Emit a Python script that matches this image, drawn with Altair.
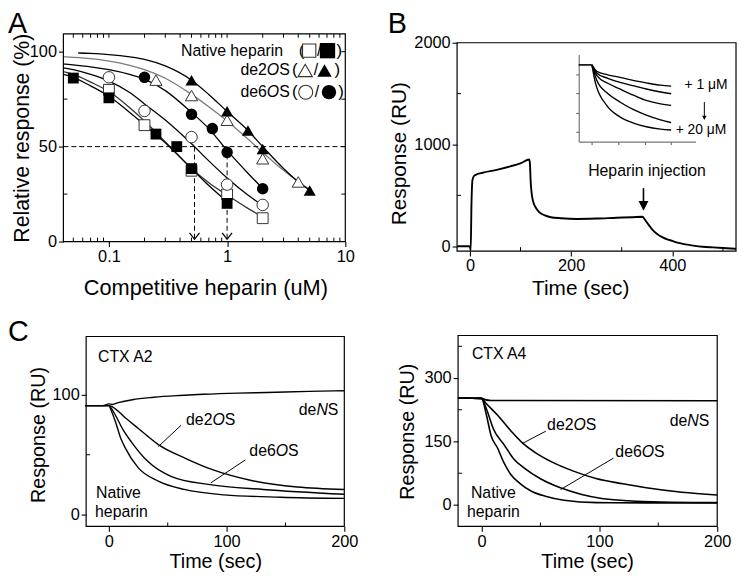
import altair as alt
import pandas as pd

FONT = "Liberation Sans"
W, H = 737, 568

# ================= Panel A : competition curves =================
A_sq_open_x = [0.1, 0.2, 0.5, 1.0, 2.0]
A_sq_open_y = [79.9, 61.3, 37.3, 24.8, 12.3]
A_sq_fill_x = [0.05, 0.1, 0.25, 0.375, 0.5, 1.0]
A_sq_fill_y = [86.1, 75.7, 56.6, 50.0, 38.4, 20.1]
A_tri_open_x = [0.25, 0.5, 1.0, 2.0, 4.0]
A_tri_open_y = [85.0, 76.9, 63.9, 43.6, 31.4]
A_tri_fill_x = [0.5, 1.0, 1.5, 2.0, 5.0]
A_tri_fill_y = [85.0, 68.6, 58.5, 48.8, 26.9]
A_cir_open_x = [0.1, 0.2, 0.5, 1.0, 2.0]
A_cir_open_y = [86.5, 68.8, 55.0, 30.0, 19.3]
A_cir_fill_x = [0.2, 0.5, 0.75, 1.0, 2.0]
A_cir_fill_y = [86.5, 67.0, 59.5, 47.0, 27.8]

fit_sq_open_x = [0.0412, 0.05, 0.07, 0.1, 0.15, 0.2, 0.3, 0.5, 0.7, 1.0, 1.5, 2.0]
fit_sq_open_y = [89.5, 88.0, 84.0, 79.0, 70.5, 63.5, 52.5, 38.5, 31.0, 24.5, 17.5, 13.0]
fit_sq_fill_x = [0.0412, 0.05, 0.07, 0.1, 0.15, 0.2, 0.3, 0.5, 0.7, 1.0]
fit_sq_fill_y = [88.0, 86.5, 82.0, 76.5, 68.0, 61.5, 52.0, 38.5, 29.5, 21.0]
fit_cir_open_x = [0.0412, 0.05, 0.07, 0.1, 0.15, 0.2, 0.3, 0.5, 0.7, 1.0, 1.5, 2.0]
fit_cir_open_y = [91.5, 90.5, 88.0, 84.5, 78.5, 72.5, 64.0, 51.5, 42.5, 33.5, 24.5, 19.0]
fit_cir_fill_x = [0.0412, 0.05, 0.07, 0.1, 0.15, 0.2, 0.3, 0.5, 0.7, 1.0, 1.5, 2.0]
fit_cir_fill_y = [93.5, 93.0, 92.0, 90.5, 88.0, 85.5, 79.5, 68.0, 59.5, 48.0, 36.0, 28.0]
fit_tri_open_x = [0.0412, 0.05, 0.07, 0.1, 0.15, 0.2, 0.3, 0.5, 0.7, 1.0, 1.5, 2.0, 3.0, 4.0, 5.0]
fit_tri_open_y = [97.3, 97.0, 96.3, 95.0, 92.8, 90.5, 86.0, 77.5, 71.0, 63.5, 54.0, 47.0, 37.5, 31.5, 27.5]
fit_tri_fill_x = [0.055, 0.07, 0.1, 0.15, 0.2, 0.3, 0.5, 0.7, 1.0, 1.5, 2.0, 3.0, 4.0, 5.0]
fit_tri_fill_y = [99.3, 99.1, 98.5, 97.3, 96.0, 92.5, 85.0, 77.5, 68.5, 58.5, 50.0, 38.5, 31.5, 27.0]

A_half = 50
A_ic50_x = [0.53, 1.0]

# ================= Panel B : sensorgram =================
B_t = [-25, -2, 0, 1.5, 3, 5, 8, 15, 25, 55, 80, 101, 117, 118.5, 120, 122, 125, 130, 137,
       147, 160, 180, 211, 250, 290, 320, 341, 344, 348, 354, 361, 370, 380, 390, 400, 415,
       430, 445, 460, 480, 500, 526]
B_v = [0, 0, -5, -40, 400, 650, 690, 710, 722, 753, 785, 817, 852, 820, 640, 520, 440, 380, 335,
       305, 285, 275, 268, 272, 280, 285, 290, 275, 245, 205, 160, 120, 90, 68, 52, 30,
       15, 3, -5, -12, -18, -25]
B_arrow_t = 343

# inset (heparin 1 -> 20 uM)
inset_flat_t = [-25, 0]
inset_flat_v = [175, 175]
inset_t = [0, 9.4, 30, 53, 80, 103, 130, 150]
inset_c1 = [175, 158, 149, 142.5, 134, 128, 122, 119.5]
inset_c2 = [175, 153.5, 140, 129.5, 120, 112, 104, 99.5]
inset_c3 = [175, 147, 127, 112, 95, 82, 73, 69]
inset_c4 = [175, 134, 100, 78, 57, 43.5, 31, 24]
inset_c5_t = [0, 6.4, 28, 53, 80, 103, 130, 150]
inset_c5 = [175, 129.5, 69, 39, 22, 13, 7, 4.5]

# ================= Panel C : CTX A2 / CTX A4 =================
C1_deNS_t = [-20, -5, 0, 3, 8, 20, 38, 60, 80, 110, 134, 170, 200]
C1_deNS_v = [91, 91, 92.5, 92, 93.5, 96, 98, 99.5, 100.5, 101.5, 102, 103, 103.5]
C1_de2_t = [-20, 0, 3, 8.4, 15, 25, 42, 65, 88, 121, 160, 200]
C1_de2_v = [91, 91, 90, 86, 80, 72, 58.5, 47, 37.5, 28.5, 23, 21]
C1_de6_t = [-20, 0, 2, 5.6, 12, 18.9, 33, 52.7, 86, 131, 200]
C1_de6_v = [91, 91, 89, 83, 71, 61, 44.5, 32, 25, 21, 17]
C1_nat_t = [-20, 0, 2, 5.6, 10, 14, 25, 42, 64, 98, 146, 200]
C1_nat_v = [91, 91, 87, 77.5, 64, 55.5, 39, 28, 21, 16.5, 14.5, 13.5]

C2_deNS_t = [-20, 0, 3, 8, 20, 200]
C2_deNS_v = [253, 252, 249, 247, 247, 246.5]
C2_de2_t = [-20, 0, 4, 13.7, 25, 34.9, 45, 58.7, 78, 97.9, 120, 139.8, 170, 200]
C2_de2_v = [253, 252, 240, 212, 175, 146, 125, 103, 80, 62, 50, 40.5, 30, 23.5]
C2_de6_t = [-20, 0, 4.2, 10, 19.5, 27, 36.3, 50, 67, 85, 102, 125, 152, 200]
C2_de6_v = [253, 252, 227, 180, 141, 110, 87, 62, 40.5, 25, 15.5, 10, 7, 5.5]
C2_nat_t = [-20, 0, 4.2, 8, 13.7, 19, 25, 33, 42, 55, 70, 98, 140, 200]
C2_nat_v = [253, 252, 212, 165, 134, 100, 71.5, 50, 33, 20, 11, 5.5, 5, 5]

# tick values
A_xticks = [0.1, 1, 10]
A_yticks = [0, 50, 100]
A_xminor = [0.05, 0.06, 0.07, 0.08, 0.09, 0.2, 0.3, 0.4, 0.5, 0.6, 0.7, 0.8, 0.9,
            2, 3, 4, 5, 6, 7, 8, 9]
A_yminor = [25, 75]
A_yright = [25, 50, 75, 100]
B_xticks = [0, 200, 400]
B_yticks = [0, 1000, 2000]
B_xminor = [100, 300, 500]
B_yminor = [500, 1500]
C_xticks = [0, 100, 200]
C_xminor = [50, 150]
C1_yticks = [0, 100]
C1_yminor = [50]
C2_yticks = [0, 150, 300]
C2_yminor = [75, 225, 375]
inset_ticks = [0, 50, 100, 150]

# ================= helpers =================
AX_COMMON = dict(labelFont=FONT, labelFontSize=16.5, labelColor="black", tickColor="black",
                 tickSize=5, tickWidth=1.1, domain=False, grid=False,
                 labelExpr="'' + datum.value",
                 titleFont=FONT, titleFontWeight="normal", titleColor="black",
                 labelOverlap=False)


def x_axis(offset, values, title, tfs, tx, ty):
    return alt.Axis(orient="bottom", offset=offset, values=values, title=title,
                    titleFontSize=tfs, titleX=tx, titleY=ty, titleAngle=0,
                    titleAlign="center", titleBaseline="alphabetic",
                    labelFlush=False, labelPadding=2, **AX_COMMON)


def y_axis(offset, values, title, tfs, tx, ty):
    return alt.Axis(orient="left", offset=offset, values=values, title=title,
                    titleFontSize=tfs, titleX=tx, titleY=ty, titleAngle=270,
                    titleAlign="center", titleBaseline="alphabetic",
                    labelPadding=2, **AX_COMMON)


class Panel:
    def __init__(self, L, R, T, B, xdom, ydom, xaxis, yaxis, xlog=False):
        self.L, self.R, self.T, self.B = L, R, T, B
        self.xdom, self.ydom = xdom, ydom
        self.xaxis, self.yaxis = xaxis, yaxis
        if xlog:
            self.xs = alt.Scale(type="log", domain=xdom, range=[L, R], nice=False)
        else:
            self.xs = alt.Scale(type="linear", domain=xdom, range=[L, R], nice=False, zero=False)
        self.ys = alt.Scale(type="linear", domain=ydom, range=[B, T], nice=False, zero=False)

    def X(self, f):
        return alt.X(f, type="quantitative", scale=self.xs, axis=self.xaxis)

    def Y(self, f):
        return alt.Y(f, type="quantitative", scale=self.ys, axis=self.yaxis)

    def frame(self):
        d = pd.DataFrame({"x": [self.xdom[0]], "x2": [self.xdom[1]],
                          "y": [self.ydom[0]], "y2": [self.ydom[1]]})
        return alt.Chart(d).mark_rect(fillOpacity=0, stroke="black", strokeWidth=1.2).encode(
            x=self.X("x"), x2="x2:Q", y=self.Y("y"), y2="y2:Q")

    def yticks(self, vals, side="left", n=4):
        x0 = self.L if side == "left" else self.R - n
        d = pd.DataFrame({"v": vals})
        return alt.Chart(d).mark_rule(color="black", strokeWidth=1).encode(
            y=self.Y("v"), x=alt.value(x0), x2=alt.value(x0 + n))

    def xticks(self, vals, side="bottom", n=4):
        y0 = self.B - n if side == "bottom" else self.T
        d = pd.DataFrame({"v": vals})
        return alt.Chart(d).mark_rule(color="black", strokeWidth=1).encode(
            x=self.X("v"), y=alt.value(y0), y2=alt.value(y0 + n))

    def line(self, xs, ys, color="black", width=1.4):
        d = pd.DataFrame({"x": xs, "y": ys})
        return alt.Chart(d).mark_line(color=color, strokeWidth=width, interpolate="monotone").encode(
            x=self.X("x"), y=self.Y("y"))


# ================= Panel A =================
A_L, A_R, A_T, A_B = 56, 341, 23, 233
pA = Panel(A_L, A_R, A_T, A_B, [0.0412, 10], [0, 109.4],
           x_axis(A_B - H, A_xticks, "Competitive heparin (uM)", 22, 199.5, 53.5),
           y_axis(-A_L, A_yticks, "Relative response (%)", 21.5, -35.5, 128),
           xlog=True)

pts = pd.DataFrame({
    "x": A_sq_open_x + A_tri_open_x + A_cir_open_x,
    "y": A_sq_open_y + A_tri_open_y + A_cir_open_y,
    "sh": ["square"] * 5 + ["triangle-up"] * 5 + ["circle"] * 5,
    "sz": [120] * 5 + [150] * 5 + [135] * 5,
})
pts_f = pd.DataFrame({
    "x": A_sq_fill_x + A_tri_fill_x + A_cir_fill_x,
    "y": A_sq_fill_y + A_tri_fill_y + A_cir_fill_y,
    "sh": ["square"] * 6 + ["triangle-up"] * 5 + ["circle"] * 5,
    "sz": [120] * 6 + [150] * 5 + [135] * 5,
})

hline = alt.Chart(pd.DataFrame({"x": [0.0412], "x2": [10], "y": [A_half]})).mark_rule(
    color="black", strokeWidth=1, strokeDash=[5, 3]).encode(x=pA.X("x"), x2="x2:Q", y=pA.Y("y"))
vlines = alt.Chart(pd.DataFrame({"x": A_ic50_x, "y": [A_half] * 2, "y2": [1.5] * 2})).mark_rule(
    color="black", strokeWidth=1, strokeDash=[5, 3]).encode(x=pA.X("x"), y=pA.Y("y"), y2="y2:Q")
vheads = alt.Chart(pd.DataFrame({"x": A_ic50_x, "y": [1.2] * 2})).mark_point(
    shape="M-1,-1.3L0,0L1,-1.3", size=100, filled=False, color="black", strokeWidth=1.3,
    opacity=1).encode(x=pA.X("x"), y=pA.Y("y"))

layerA = alt.layer(
    pA.line(fit_tri_open_x, fit_tri_open_y, color="#7a7a7a", width=1.3),
    pA.line(fit_tri_fill_x, fit_tri_fill_y, width=1.3),
    pA.line(fit_cir_fill_x, fit_cir_fill_y, width=1.3),
    pA.line(fit_cir_open_x, fit_cir_open_y, width=1.3),
    pA.line(fit_sq_open_x, fit_sq_open_y, color="#333333", width=1.3),
    pA.line(fit_sq_fill_x, fit_sq_fill_y, width=1.3),
    hline, vlines, vheads,
    alt.Chart(pts).mark_point(filled=True, fill="white", stroke="#333333", strokeWidth=1, opacity=1).encode(
        x=pA.X("x"), y=pA.Y("y"), shape=alt.Shape("sh:N", scale=None), size=alt.Size("sz:Q", scale=None)),
    alt.Chart(pts_f).mark_point(filled=True, color="black", opacity=1).encode(
        x=pA.X("x"), y=pA.Y("y"), shape=alt.Shape("sh:N", scale=None), size=alt.Size("sz:Q", scale=None)),
    pA.yticks(A_yminor, "left"),
    pA.yticks(A_yright, "right"),
    pA.xticks(A_xminor, "bottom"),
    pA.xticks(A_xminor + [0.1, 1], "top"),
    pA.frame(),
)

# ================= Panel B =================
B_L, B_R, B_T, B_B = 454, 736, 32, 242.7
pB = Panel(B_L, B_R, B_T, B_B, [-25.4, 525.9], [-48.6, 2000],
           x_axis(B_B - H, B_xticks, "Time (sec)", 21, 578.5, 44.3),
           y_axis(-B_L, B_yticks, "Response (RU)", 21, -52, 143.7))
b_arrow = alt.Chart(pd.DataFrame({"x": [B_arrow_t], "y": [571], "y2": [396]})).mark_rule(
    color="black", strokeWidth=1.6).encode(x=pB.X("x"), y=pB.Y("y"), y2="y2:Q")
b_head = alt.Chart(pd.DataFrame({"x": [B_arrow_t], "y": [396]})).mark_point(
    shape="M-1,-1L1,-1L0,1Z", size=100, filled=True, color="black", opacity=1).encode(
    x=pB.X("x"), y=pB.Y("y"))
layerB = alt.layer(
    pB.line(B_t, B_v, width=1.9),
    b_arrow, b_head,
    pB.yticks(B_yminor, "left"),
    pB.xticks(B_xminor, "bottom"),
    pB.frame(),
)

# ================= Inset =================
I_L, I_R, I_T, I_B = 577, 695, 44, 132
inset_yaxis = alt.Axis(orient="left", offset=-I_L, values=inset_ticks, labels=False, title=None,
                       tickSize=3, tickColor="#555555", domainColor="#777777", domainWidth=1.2, grid=False)
inset_xaxis = alt.Axis(orient="bottom", offset=I_B - H, values=inset_ticks, labels=False, title=None,
                       tickSize=3, tickColor="#555555", domainColor="#777777", domainWidth=1.2, grid=False)
pI = Panel(I_L, I_R, I_T, I_B, [-24.9, 196], [-25.9, 202], inset_xaxis, inset_yaxis)
layerI = alt.layer(
    pI.line(inset_flat_t, inset_flat_v, width=1.6),
    pI.line(inset_t, inset_c1, width=1.4),
    pI.line(inset_t, inset_c2, width=1.4),
    pI.line(inset_t, inset_c3, width=1.4),
    pI.line(inset_t, inset_c4, width=1.4),
    pI.line(inset_c5_t, inset_c5, width=1.4),
)

# ================= Panels C =================
C1_L, C1_R, C1_T, C1_B = 79, 340, 329, 521
pC1 = Panel(C1_L, C1_R, C1_T, C1_B, [-19.3, 200], [-9.9, 148.8],
            x_axis(C1_B - H, C_xticks, "Time (sec)", 20, 209.5, 42),
            y_axis(-C1_L, C1_yticks, "Response (RU)", 20, -42.5, 428))
layerC1 = alt.layer(
    pC1.line(C1_deNS_t, C1_deNS_v), pC1.line(C1_de2_t, C1_de2_v),
    pC1.line(C1_de6_t, C1_de6_v), pC1.line(C1_nat_t, C1_nat_v),
    pC1.yticks(C1_yminor, "left"), pC1.xticks(C_xminor, "bottom"),
    pC1.frame(),
)

C2_L, C2_R, C2_T, C2_B = 455, 717, 328, 521
pC2 = Panel(C2_L, C2_R, C2_T, C2_B, [-19.9, 200], [-50.7, 400.5],
            x_axis(C2_B - H, C_xticks, "Time (sec)", 20, 585.5, 42),
            y_axis(-C2_L, C2_yticks, "Response (RU)", 20, -45.5, 424.7))
layerC2 = alt.layer(
    pC2.line(C2_deNS_t, C2_deNS_v, width=1.6), pC2.line(C2_de2_t, C2_de2_v, width=1.6),
    pC2.line(C2_de6_t, C2_de6_v, width=1.6), pC2.line(C2_nat_t, C2_nat_v, width=1.6),
    pC2.yticks(C2_yminor, "left"), pC2.xticks(C_xminor, "bottom"),
    pC2.frame(),
)

# ================= Annotations (text, legend glyphs, leaders) =================
AW = {"d": .556, "e": .556, "2": .556, "6": .556, "O": .778, "S": .667, "N": .722}
TXT_N, TXT_I = [], []


def word(parts, x, y, fs=16):
    for s, it in parts:
        (TXT_I if it else TXT_N).append(dict(t=s, x=x, y=y, fs=fs))
        x += sum(AW.get(ch, .556) for ch in s) * fs


word([("A", False)], 0, 13, 29)
word([("B", False)], 384, 13, 29)
word([("C", False)], 0, 325, 29)
# panel A legend
word([("Native heparin", False)], 175, 40)
word([("(", False)], 294, 40, 17); word([("/", False)], 312.5, 40); word([(")", False)], 332, 40, 17)
word([("de2", False), ("O", True), ("S", False)], 235, 60)
word([("(", False)], 287, 60, 17); word([("/", False)], 309, 60); word([(")", False)], 330, 60, 17)
word([("de6", False), ("O", True), ("S", False)], 235, 82)
word([("(", False)], 287, 82, 17); word([("/", False)], 310, 82); word([(")", False)], 334, 82, 17)
# panel B
word([("Heparin injection", False)], 586.5, 162)
word([("+ 1 μM", False)], 684, 75, 14)
word([("+ 20 μM", False)], 675, 120, 14)
# panel C1
word([("CTX A2", False)], 91, 350)
word([("de", False), ("N", True), ("S", False)], 294, 403.7)
word([("de2", False), ("O", True), ("S", False)], 180, 413.7)
word([("de6", False), ("O", True), ("S", False)], 244, 445.3)
word([("Native", False)], 89, 487)
word([("heparin", False)], 88, 506)
# panel C2
word([("CTX A4", False)], 469, 347)
word([("de", False), ("N", True), ("S", False)], 669, 414.7)
word([("de2", False), ("O", True), ("S", False)], 545, 418.7)
word([("de6", False), ("O", True), ("S", False)], 614, 446)
word([("Native", False)], 468, 487)
word([("heparin", False)], 464, 506)


def px(f):
    return alt.X(f, type="quantitative", scale=None, axis=None)


def py(f):
    return alt.Y(f, type="quantitative", scale=None, axis=None)


txt_n = alt.Chart(pd.DataFrame(TXT_N)).mark_text(
    align="left", baseline="middle", font=FONT, color="black").encode(
    x=px("x"), y=py("y"), text="t:N", size=alt.Size("fs:Q", scale=None))
txt_i = alt.Chart(pd.DataFrame(TXT_I)).mark_text(
    align="left", baseline="middle", font=FONT, fontStyle="italic", color="black").encode(
    x=px("x"), y=py("y"), text="t:N", size=alt.Size("fs:Q", scale=None))

leg_open = pd.DataFrame({"x": [304.5, 300.5, 301], "y": [40, 60, 82],
                         "sh": ["square", "triangle-up", "circle"], "sz": [180, 210, 200]})
leg_fill = pd.DataFrame({"x": [323, 320, 324.5], "y": [40, 60, 82],
                         "sh": ["square", "triangle-up", "circle"], "sz": [240, 210, 210]})
legend_open = alt.Chart(leg_open).mark_point(filled=True, fill="white", stroke="#333333",
                                             strokeWidth=1.1, opacity=1).encode(
    x=px("x"), y=py("y"), shape=alt.Shape("sh:N", scale=None), size=alt.Size("sz:Q", scale=None))
legend_fill = alt.Chart(leg_fill).mark_point(filled=True, color="black", opacity=1).encode(
    x=px("x"), y=py("y"), shape=alt.Shape("sh:N", scale=None), size=alt.Size("sz:Q", scale=None))

leaders = pd.DataFrame({
    "x": [175, 240, 543.7, 612, 704], "y": [418.7, 453.7, 424.7, 452, 92],
    "x2": [152, 205, 520.3, 558.7, 704], "y2": [440.3, 477, 437, 483.7, 106]})
leader_rules = alt.Chart(leaders).mark_rule(color="black", strokeWidth=1).encode(
    x=px("x"), y=py("y"), x2="x2:Q", y2="y2:Q")
inset_head = alt.Chart(pd.DataFrame({"x": [704], "y": [108]})).mark_point(
    shape="M-1,-1L1,-1L0,1Z", size=20, filled=True, color="black", opacity=1).encode(
    x=px("x"), y=py("y"))

layerAnn = alt.layer(txt_n, txt_i, legend_open, legend_fill, leader_rules, inset_head)

chart = alt.layer(layerA, layerB, layerI, layerC1, layerC2, layerAnn).resolve_scale(
    x="independent", y="independent"
).properties(
    width=W, height=H, padding=0, autosize=alt.AutoSizeParams(type="none"),
    background="white"
).configure_view(stroke=None).configure_text(font=FONT)

chart.save("out.html", embed_options={"renderer": "svg", "actions": False})
